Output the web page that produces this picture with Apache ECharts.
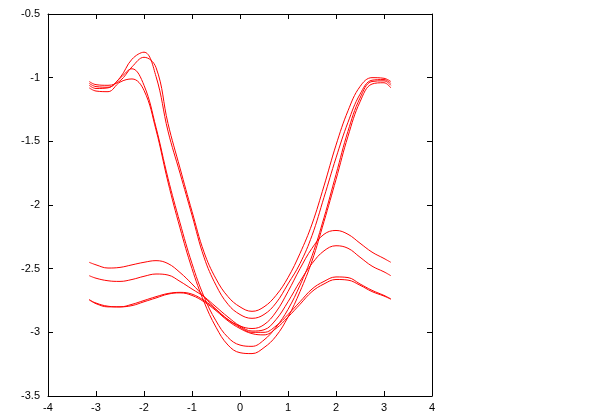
<!DOCTYPE html>
<html><head><meta charset="utf-8">
<script src="https://cdn.jsdelivr.net/npm/echarts@6/dist/echarts.min.js"></script>
<style>html,body{margin:0;padding:0;background:#fff}#c{width:600px;height:420px}</style>
</head><body><div id="c"></div>
<script>
var xs = [-3.1416, -3.0, -2.75, -2.5, -2.25, -2.0, -1.75, -1.5, -1.25, -1.0, -0.75, -0.5, -0.25, 0, 0.25, 0.5, 0.75, 1.0, 1.25, 1.5, 1.75, 2.0, 2.25, 2.5, 2.75, 3.0, 3.1416];
var t1 = [-1.045, -1.07, -1.075, -1.00, -0.855, -0.80, -0.99, -1.42, -1.75, -2.08, -2.41, -2.63, -2.78, -2.86, -2.89, -2.86, -2.77, -2.62, -2.46, -2.24, -1.94, -1.63, -1.35, -1.13, -1.02, -1.015, -1.045];
var t2 = [-1.03, -1.055, -1.06, -1.025, -0.915, -0.84, -0.92, -1.36, -1.71, -2.05, -2.37, -2.58, -2.72, -2.80, -2.835, -2.80, -2.71, -2.57, -2.38, -2.15, -1.85, -1.53, -1.26, -1.07, -1.00, -1.005, -1.03];
var t3 = [-1.06, -1.085, -1.08, -1.005, -0.93, -1.06, -1.39, -1.79, -2.14, -2.46, -2.72, -2.91, -3.04, -3.10, -3.11, -3.06, -2.96, -2.82, -2.63, -2.40, -2.10, -1.76, -1.42, -1.16, -1.03, -1.025, -1.06];
var t4 = [-1.08, -1.105, -1.11, -1.035, -1.01, -1.10, -1.41, -1.82, -2.18, -2.50, -2.76, -2.96, -3.10, -3.16, -3.167, -3.12, -3.03, -2.88, -2.68, -2.44, -2.13, -1.80, -1.46, -1.19, -1.05, -1.04, -1.08];
var l1 = [-2.45, -2.47, -2.495, -2.49, -2.47, -2.45, -2.437, -2.46, -2.53, -2.62, -2.72, -2.82, -2.90, -2.95, -2.97, -2.94, -2.84, -2.68, -2.50, -2.34, -2.23, -2.20, -2.23, -2.30, -2.37, -2.42, -2.45];
var l2 = [-2.555, -2.575, -2.595, -2.60, -2.585, -2.56, -2.542, -2.55, -2.60, -2.66, -2.72, -2.80, -2.88, -2.95, -2.99, -2.98, -2.90, -2.76, -2.60, -2.46, -2.36, -2.32, -2.34, -2.41, -2.48, -2.525, -2.555];
var l3 = [-2.743, -2.77, -2.795, -2.80, -2.78, -2.75, -2.72, -2.695, -2.686, -2.70, -2.75, -2.82, -2.90, -2.96, -3.00, -3.00, -2.95, -2.86, -2.76, -2.66, -2.60, -2.565, -2.57, -2.62, -2.67, -2.71, -2.737];
var l4 = [-2.745, -2.775, -2.80, -2.80, -2.79, -2.76, -2.73, -2.70, -2.69, -2.71, -2.76, -2.83, -2.91, -2.97, -3.01, -3.02, -2.97, -2.88, -2.78, -2.68, -2.62, -2.585, -2.59, -2.63, -2.68, -2.715, -2.74];
var xTicks = [-4, -3, -2, -1, 0, 1, 2, 3, 4];
var yTicks = [-3.5, -3, -2.5, -2, -1.5, -1, -0.5];

var curves = [t1, t2, t3, t4, l1, l2, l3, l4];
function pts(ys){ return xs.map(function(x,i){ return [x, ys[i]]; }); }
var series = curves.map(function(c){
  return {type:'line', data: pts(c), smooth: 0.4, symbol:'none', xAxisIndex:0, yAxisIndex:0,
    lineStyle:{color:'#ff0000', width:1}, silent:true, animation:false};
});
var lab = {color:'#000', fontFamily:'Liberation Sans, Arial, sans-serif', fontSize:11};
var chart = echarts.init(document.getElementById('c'), null, {renderer:'canvas'});
chart.setOption({
  animation:false,
  grid:{left:48, right:168, top:14, bottom:24, containLabel:false},
  xAxis:[
    {type:'value', min:xTicks[0], max:xTicks[xTicks.length-1], interval:1, position:'bottom',
     axisLine:{show:true, onZero:false, lineStyle:{color:'#000', width:1}},
     axisTick:{show:true, inside:true, length:5, lineStyle:{color:'#000'}},
     axisLabel:Object.assign({margin:6}, lab), splitLine:{show:false}},
    {type:'value', min:xTicks[0], max:xTicks[xTicks.length-1], interval:1, position:'top',
     axisLine:{show:true, onZero:false, lineStyle:{color:'#000', width:1}},
     axisTick:{show:true, inside:true, length:5, lineStyle:{color:'#000'}},
     axisLabel:{show:false}, splitLine:{show:false}}
  ],
  yAxis:[
    {type:'value', min:yTicks[0], max:yTicks[yTicks.length-1], interval:0.5, position:'left',
     axisLine:{show:true, onZero:false, lineStyle:{color:'#000', width:1}},
     axisTick:{show:true, inside:true, length:5, lineStyle:{color:'#000'}},
     axisLabel:Object.assign({margin:8}, lab), splitLine:{show:false}},
    {type:'value', min:yTicks[0], max:yTicks[yTicks.length-1], interval:0.5, position:'right',
     axisLine:{show:true, onZero:false, lineStyle:{color:'#000', width:1}},
     axisTick:{show:true, inside:true, length:5, lineStyle:{color:'#000'}},
     axisLabel:{show:false}, splitLine:{show:false}}
  ],
  series: series
});
</script></body></html>
